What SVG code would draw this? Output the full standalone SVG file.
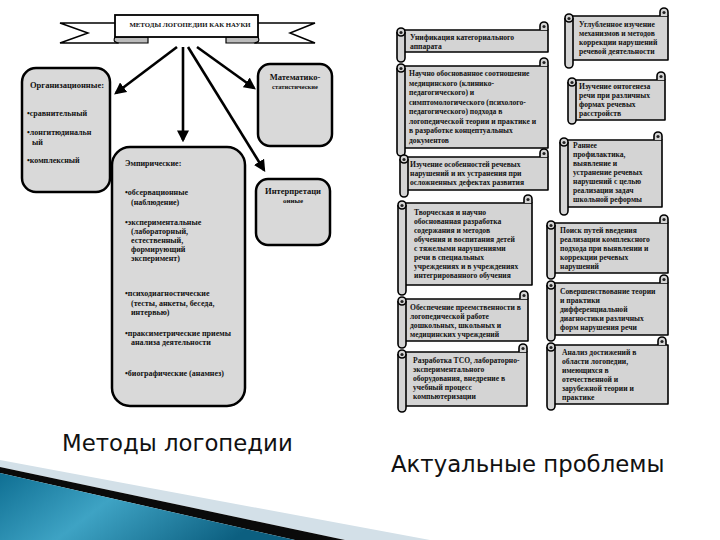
<svg xmlns="http://www.w3.org/2000/svg" width="720" height="540" viewBox="0 0 720 540">
<defs>
<style>
.box{fill:#d9d9d9;stroke:#000;stroke-width:2.5}
.sc{fill:#d4d4d4;stroke:#000;stroke-width:1.6;stroke-linejoin:round}
.dot{fill:#222}
.t{font-family:"Liberation Serif",serif;font-weight:bold;font-size:8px;fill:#111}
.s{font-family:"Liberation Serif",serif;font-weight:bold;font-size:7.6px;fill:#111}
.big{font-family:"DejaVu Sans",sans-serif;font-size:22.8px;fill:#111}
.arr{stroke:#000;stroke-width:2.6;fill:none;marker-end:url(#ah)}
</style>
<marker id="ah" viewBox="0 0 10 10" refX="8" refY="5" markerWidth="4.6" markerHeight="4.6" orient="auto" markerUnits="strokeWidth">
<path d="M0,0 L10,5 L0,10 Z" fill="#000"/>
</marker>
<linearGradient id="teal" x1="0" y1="0" x2="1" y2="0.3">
<stop offset="0" stop-color="#0f6f93"/>
<stop offset="0.45" stop-color="#3ea3c4"/>
<stop offset="1" stop-color="#0c5f80"/>
</linearGradient>
</defs>
<rect width="720" height="540" fill="#fff"/>

<!-- Left diagram -->
<g id="banner">
<path d="M118,23 H60 L88,33 L60,43 H118 Z" fill="#fff" stroke="#000" stroke-width="1.5"/>
<path d="M255,23 H315 L290,33 L315,43 H255 Z" fill="#fff" stroke="#000" stroke-width="1.5"/>
<path d="M115,37 Q112,43 120,43 H148 V37 Z" fill="#bbb" stroke="#000" stroke-width="1.2"/>
<path d="M258,37 Q261,43 253,43 H226 V37 Z" fill="#bbb" stroke="#000" stroke-width="1.2"/>
<rect x="115" y="15" width="143" height="22" fill="#fff" stroke="#000" stroke-width="1.8"/>
<text x="190" y="27" text-anchor="middle" class="t" style="font-size:6.8px">МЕТОДЫ ЛОГОПЕДИИ КАК НАУКИ</text>
</g>

<g id="connectors">
<line class="arr" x1="177" y1="47" x2="116" y2="93"/>
<line class="arr" x1="183" y1="47" x2="183" y2="140"/>
<line class="arr" x1="188" y1="47" x2="264" y2="170"/>
<line class="arr" x1="197" y1="47" x2="254" y2="88"/>
</g>

<g id="org">
<rect class="box" x="22" y="68" width="88" height="124" rx="14"/>
<text class="t" x="30" y="88" style="font-size:8.5px">Организационные:</text>
<text class="t" x="27" y="116">•сравнительный</text>
<text class="t" x="27" y="135">•лонгитюдинальн</text>
<text class="t" x="32" y="145">ый</text>
<text class="t" x="27" y="163">•комплексный</text>
</g>

<g id="math">
<rect class="box" x="258" y="64" width="74" height="82" rx="12"/>
<text class="t" x="295" y="80" text-anchor="middle" style="font-size:8.5px">Математико-</text>
<text class="t" x="295" y="89" text-anchor="middle" style="font-size:6.5px">статистические</text>
</g>

<g id="interp">
<rect class="box" x="256" y="179" width="74" height="66" rx="12"/>
<text class="t" x="293" y="194" text-anchor="middle" style="font-size:8.5px">Интерпретаци</text>
<text class="t" x="293" y="203" text-anchor="middle" style="font-size:7px">онные</text>
</g>

<g id="emp">
<rect class="box" x="112" y="147" width="133" height="259" rx="18"/>
<text class="t" x="125" y="166">Эмпирические:</text>
<text class="t" x="125" y="195">•обсервационные</text>
<text class="t" x="131" y="205">(наблюдение)</text>
<text class="t" x="125" y="225">•экспериментальные</text>
<text class="t" x="131" y="234">(лабораторный,</text>
<text class="t" x="131" y="243">естественный,</text>
<text class="t" x="131" y="252">формирующий</text>
<text class="t" x="131" y="261">эксперимент)</text>
<text class="t" x="125" y="296">•психодиагностические</text>
<text class="t" x="131" y="306">(тесты, анкеты, беседа,</text>
<text class="t" x="131" y="315">интервью)</text>
<text class="t" x="125" y="336">•праксиметрические приемы</text>
<text class="t" x="131" y="345">анализа деятельности</text>
<text class="t" x="125" y="376">•биографические (анамнез)</text>
</g>

<!-- Right diagram: scrolls -->
<g id="L1">
<rect class="sc" x="401" y="30" width="147" height="22"/>
<path class="sc" d="M540,30 V26 A4,4 0 0 1 548,26 V30"/><circle class="dot" cx="544" cy="26.5" r="1.6"/>
<path class="sc" d="M397,32 V58 A4,4 0 0 0 405,58 V32"/><circle class="sc" cx="401" cy="32" r="4"/><circle class="dot" cx="401" cy="32.5" r="1.6"/>
<text class="s" x="410" y="40">Унификация категориального</text>
<text class="s" x="410" y="49">аппарата</text>
</g>

<g id="L2">
<rect class="sc" x="401" y="66" width="147" height="82"/>
<path class="sc" d="M540,66 V62 A4,4 0 0 1 548,62 V66"/><circle class="dot" cx="544" cy="62.5" r="1.6"/>
<path class="sc" d="M397,68 V152 A4,4 0 0 0 405,152 V68"/><circle class="sc" cx="401" cy="68" r="4"/><circle class="dot" cx="401" cy="68.5" r="1.6"/>
<text class="s" x="409" y="76">Научно обоснованное  соотношение</text>
<text class="s" x="409" y="85.5">медицинского (клинико-</text>
<text class="s" x="409" y="95">педагогического) и</text>
<text class="s" x="409" y="104.5">симптомологического (психолого-</text>
<text class="s" x="409" y="114">педагогического) подхода  в</text>
<text class="s" x="409" y="123.5">логопедической теории и практике и</text>
<text class="s" x="409" y="133">в разработке концептуальных</text>
<text class="s" x="409" y="142.5">документов</text>
</g>

<g id="L3">
<rect class="sc" x="404" y="157" width="144" height="33"/>
<path class="sc" d="M540,157 V153 A4,4 0 0 1 548,153 V157"/><circle class="dot" cx="544" cy="153.5" r="1.6"/>
<path class="sc" d="M400,159 V193 A4,4 0 0 0 408,193 V159"/><circle class="sc" cx="404" cy="159" r="4"/><circle class="dot" cx="404" cy="159.5" r="1.6"/>
<text class="s" x="410" y="167">Изучение особенностей речевых</text>
<text class="s" x="410" y="176">нарушений и их устранения при</text>
<text class="s" x="410" y="185">осложненных дефектах развития</text>
</g>

<g id="L4">
<rect class="sc" x="402" y="203" width="130" height="82"/>
<path class="sc" d="M524,203 V199 A4,4 0 0 1 532,199 V203"/><circle class="dot" cx="528" cy="199.5" r="1.6"/>
<path class="sc" d="M398,205 V291 A4,4 0 0 0 406,291 V205"/><circle class="sc" cx="402" cy="205" r="4"/><circle class="dot" cx="402" cy="205.5" r="1.6"/>
<text class="s" x="414" y="215">Творческая и научно</text>
<text class="s" x="414" y="224">обоснованная разработка</text>
<text class="s" x="414" y="233">содержания и методов</text>
<text class="s" x="414" y="242">обучения и воспитания  детей</text>
<text class="s" x="414" y="251">с тяжелыми нарушениями</text>
<text class="s" x="414" y="260">речи в специальных</text>
<text class="s" x="414" y="269">учреждениях и в учреждениях</text>
<text class="s" x="414" y="278">интегрированного обучения</text>
</g>

<g id="L5">
<rect class="sc" x="402" y="299" width="126" height="42"/>
<path class="sc" d="M520,299 V295 A4,4 0 0 1 528,295 V299"/><circle class="dot" cx="524" cy="295.5" r="1.6"/>
<path class="sc" d="M398,301 V344 A4,4 0 0 0 406,344 V301"/><circle class="sc" cx="402" cy="301" r="4"/><circle class="dot" cx="402" cy="301.5" r="1.6"/>
<text class="s" x="410" y="309.5">Обеспечение преемственности в</text>
<text class="s" x="410" y="318.5">логопедической работе</text>
<text class="s" x="410" y="327.5">дошкольных, школьных и</text>
<text class="s" x="410" y="336.5">медицинских учреждений</text>
</g>

<g id="L6">
<rect class="sc" x="402" y="352" width="125" height="54"/>
<path class="sc" d="M519,352 V348 A4,4 0 0 1 527,348 V352"/><circle class="dot" cx="523" cy="348.5" r="1.6"/>
<path class="sc" d="M398,354 V408 A4,4 0 0 0 406,408 V354"/><circle class="sc" cx="402" cy="354" r="4"/><circle class="dot" cx="402" cy="354.5" r="1.6"/>
<text class="s" x="413" y="363">Разработка ТСО, лабораторно-</text>
<text class="s" x="413" y="372">экспериментального</text>
<text class="s" x="413" y="381">оборудования, внедрение в</text>
<text class="s" x="413" y="390">учебный процесс</text>
<text class="s" x="413" y="399">компьютеризации</text>
</g>

<g id="R1">
<rect class="sc" x="569" y="16" width="99" height="44"/>
<path class="sc" d="M660,16 V12 A4,4 0 0 1 668,12 V16"/><circle class="dot" cx="664" cy="12.5" r="1.6"/>
<path class="sc" d="M565,18 V64 A4,4 0 0 0 573,64 V18"/><circle class="sc" cx="569" cy="18" r="4"/><circle class="dot" cx="569" cy="18.5" r="1.6"/>
<text class="s" x="579" y="27">Углубленное изучение</text>
<text class="s" x="579" y="36">механизмов и методов</text>
<text class="s" x="579" y="45">коррекции нарушений</text>
<text class="s" x="579" y="54">речевой деятельности</text>
</g>

<g id="R2">
<rect class="sc" x="572" y="80" width="93" height="40"/>
<path class="sc" d="M657,80 V76 A4,4 0 0 1 665,76 V80"/><circle class="dot" cx="661" cy="76.5" r="1.6"/>
<path class="sc" d="M568,82 V120 A4,4 0 0 0 576,120 V82"/><circle class="sc" cx="572" cy="82" r="4"/><circle class="dot" cx="572" cy="82.5" r="1.6"/>
<text class="s" x="579" y="89">Изучение онтогенеза</text>
<text class="s" x="579" y="98">речи при различных</text>
<text class="s" x="579" y="107">формах речевых</text>
<text class="s" x="579" y="116">расстройств</text>
</g>

<g id="R3">
<rect class="sc" x="564" y="140" width="98" height="67"/>
<path class="sc" d="M654,140 V136 A4,4 0 0 1 662,136 V140"/><circle class="dot" cx="658" cy="136.5" r="1.6"/>
<path class="sc" d="M560,142 V211 A4,4 0 0 0 568,211 V142"/><circle class="sc" cx="564" cy="142" r="4"/><circle class="dot" cx="564" cy="142.5" r="1.6"/>
<text class="s" x="573" y="148">Раннее</text>
<text class="s" x="573" y="157">профилактика,</text>
<text class="s" x="573" y="166">выявление и</text>
<text class="s" x="573" y="175">устранение речевых</text>
<text class="s" x="573" y="184">нарушений с целью</text>
<text class="s" x="573" y="193">реализации задач</text>
<text class="s" x="573" y="202">школьной реформы</text>
</g>

<g id="R4">
<rect class="sc" x="551" y="223" width="117" height="50"/>
<path class="sc" d="M660,223 V219 A4,4 0 0 1 668,219 V223"/><circle class="dot" cx="664" cy="219.5" r="1.6"/>
<path class="sc" d="M547,225 V275 A4,4 0 0 0 555,275 V225"/><circle class="sc" cx="551" cy="225" r="4"/><circle class="dot" cx="551" cy="225.5" r="1.6"/>
<text class="s" x="560" y="233">Поиск путей введения</text>
<text class="s" x="560" y="242">реализации комплексного</text>
<text class="s" x="560" y="251">подхода  при выявлении и</text>
<text class="s" x="560" y="260">коррекции речевых</text>
<text class="s" x="560" y="269">нарушений</text>
</g>

<g id="R5">
<rect class="sc" x="551" y="283" width="117" height="52"/>
<path class="sc" d="M660,283 V279 A4,4 0 0 1 668,279 V283"/><circle class="dot" cx="664" cy="279.5" r="1.6"/>
<path class="sc" d="M547,285 V337 A4,4 0 0 0 555,337 V285"/><circle class="sc" cx="551" cy="285" r="4"/><circle class="dot" cx="551" cy="285.5" r="1.6"/>
<text class="s" x="560" y="294">Совершенствование теории</text>
<text class="s" x="560" y="303">и практики</text>
<text class="s" x="560" y="312">дифференциальной</text>
<text class="s" x="560" y="321">диагностики различных</text>
<text class="s" x="560" y="330">форм нарушения речи</text>
</g>

<g id="R6">
<rect class="sc" x="551" y="345" width="117" height="59"/>
<path class="sc" d="M658,345 V341 A4,4 0 0 1 666,341 V345"/><circle class="dot" cx="662" cy="341.5" r="1.6"/>
<path class="sc" d="M547,347 V406 A4,4 0 0 0 555,406 V347"/><circle class="sc" cx="551" cy="347" r="4"/><circle class="dot" cx="551" cy="347.5" r="1.6"/>
<text class="s" x="562" y="355">Анализ достижений  в</text>
<text class="s" x="562" y="364">области логопедии,</text>
<text class="s" x="562" y="373">имеющихся в</text>
<text class="s" x="562" y="382">отечественной и</text>
<text class="s" x="562" y="391">зарубежной  теории и</text>
<text class="s" x="562" y="400">практике</text>
</g>

<!-- Captions -->
<text class="big" x="62" y="451">Методы логопедии</text>
<text class="big" x="391" y="472">Актуальные проблемы</text>

<!-- Decorative swoosh -->
<polygon points="0,460 430,540 345,540 0,467" fill="#d3e0e8"/>
<polygon points="0,467 345,540 295,540 0,473" fill="#0a0a0a"/>
<polygon points="0,473 295,540 0,540" fill="url(#teal)"/>
</svg>
